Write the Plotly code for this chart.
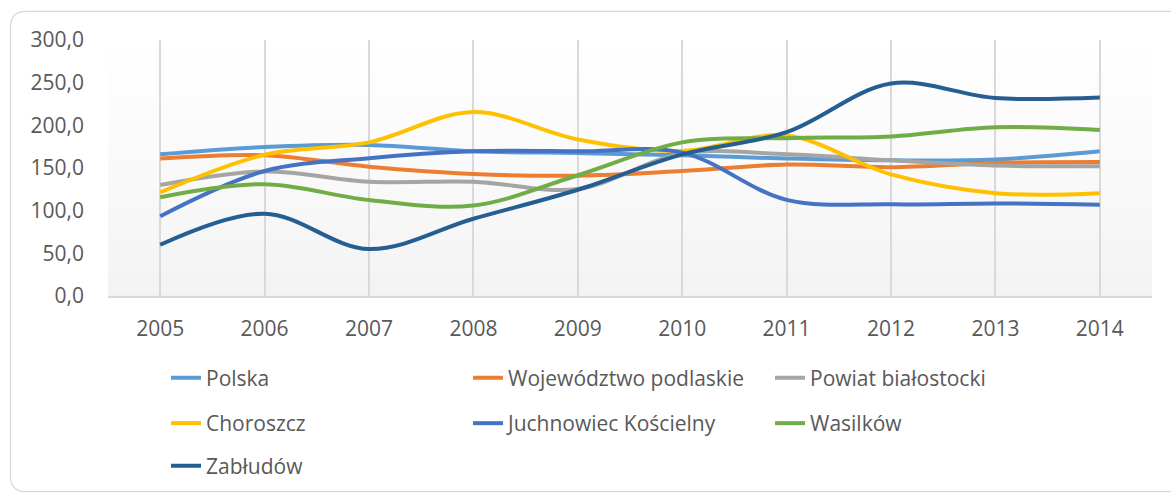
import plotly.graph_objects as go

years = [2005, 2006, 2007, 2008, 2009, 2010, 2011, 2012, 2013, 2014]
y_ticks = [0, 50, 100, 150, 200, 250, 300]

polska = [166, 174.5, 177, 169.5, 167.5, 165, 161, 159, 160, 169.5]
podlaskie = [161, 165, 151.5, 143, 141, 146.5, 154, 151, 156, 157]
bialostocki = [130, 146, 134, 134, 125.5, 167, 166, 159, 153, 152]
choroszcz = [121.5, 165.5, 180, 215.5, 183.5, 170, 188, 142.5, 120.5, 120.5]
juchnowiec = [93.5, 146.5, 161.5, 169.5, 169.5, 168, 112.7, 107.5, 108.5, 107]
wasilkow = [115.8, 131, 112.5, 106, 141.5, 180, 185, 187, 197.7, 194.5]
zabludow = [60, 96.5, 55, 90.5, 124.5, 166, 192, 249, 232, 232.5]

series = [
    ("Polska", polska, "#5B9BD5", "legend"),
    ("Województwo podlaskie", podlaskie, "#ED7D31", "legend"),
    ("Powiat białostocki", bialostocki, "#A5A5A5", "legend"),
    ("Choroszcz", choroszcz, "#FFC000", "legend2"),
    ("Juchnowiec Kościelny", juchnowiec, "#4472C4", "legend2"),
    ("Wasilków", wasilkow, "#70AD47", "legend2"),
    ("Zabłudów", zabludow, "#255E91", "legend3"),
]

W, H = 1171, 498
PL, PR, PT, PB = 108, 1152, 40, 299  # plot area in pixels

def xp(px):
    return (px - PL) / (PR - PL)

def yp(py):
    return (PB - py) / (PB - PT)

fig = go.Figure()
for name, vals, color, lg in series:
    fig.add_trace(go.Scatter(
        x=years, y=vals, name=name, mode="lines",
        line=dict(color=color, width=4, shape="spline", smoothing=1.0),
        legend=lg,
    ))

shapes = []
n = 40
for i in range(n):
    t = i / n
    c = int(round(242 + (255 - 242) * (t ** 0.8)))
    shapes.append(dict(
        type="rect", xref="x domain", yref="y domain",
        x0=0, x1=1, y0=i / n, y1=(i + 1) / n,
        fillcolor=f"rgb({c},{c},{c})", line=dict(width=0), layer="below",
    ))

# open border: top, left and bottom-left corner (right side lies outside the picture)
L, T, B, r = 10.5, 11, 497, 16
path = (
    f"M {xp(1200)},{yp(T)} L {xp(L + r)},{yp(T)} Q {xp(L)},{yp(T)} {xp(L)},{yp(T + r)} "
    f"L {xp(L)},{yp(B - r)} Q {xp(L)},{yp(B)} {xp(L + r)},{yp(B)} L {xp(1200)},{yp(B)}"
)
shapes.append(dict(type="path", xref="paper", yref="paper", path=path,
                   line=dict(color="#D9D9D9", width=1.3), layer="above"))

font = dict(family="Open Sans", size=21, color="#595959")
leg_common = dict(orientation="h", xanchor="left", yanchor="middle",
                  entrywidth=257, entrywidthmode="pixels", font=font,
                  bgcolor="rgba(0,0,0,0)", itemwidth=30, tracegroupgap=0)

lx = xp(166)
fig.update_layout(
    width=W, height=H,
    margin=dict(l=PL, r=W - PR, t=PT, b=H - PB, pad=0),
    paper_bgcolor="white", plot_bgcolor="white",
    separators=", ",
    font=font,
    shapes=shapes,
    showlegend=True,
    legend=dict(x=lx, y=yp(382), **leg_common),
    legend2=dict(x=lx, y=yp(428), **leg_common),
    legend3=dict(x=lx, y=yp(471), **leg_common),
    xaxis=dict(range=[2004.5, 2014.5], tickmode="array", tickvals=years,
               ticktext=[str(y) for y in years], showgrid=True,
               gridcolor="#D9D9D9", gridwidth=1.5, showline=True,
               linecolor="#D9D9D9", linewidth=1.5, zeroline=False,
               ticks="", ticklabelstandoff=13, tickfont=font, fixedrange=True),
    yaxis=dict(range=[0, 300], tickmode="array", tickvals=y_ticks,
               tickformat=".1f", showgrid=False, showline=False,
               zeroline=False, ticks="", ticklabelstandoff=23,
               tickfont=font, fixedrange=True),
)

fig.write_html(
    "out.html",
    config={"displayModeBar": False},
    post_script="document.body.style.margin='0';document.body.style.overflow='hidden';",
)
